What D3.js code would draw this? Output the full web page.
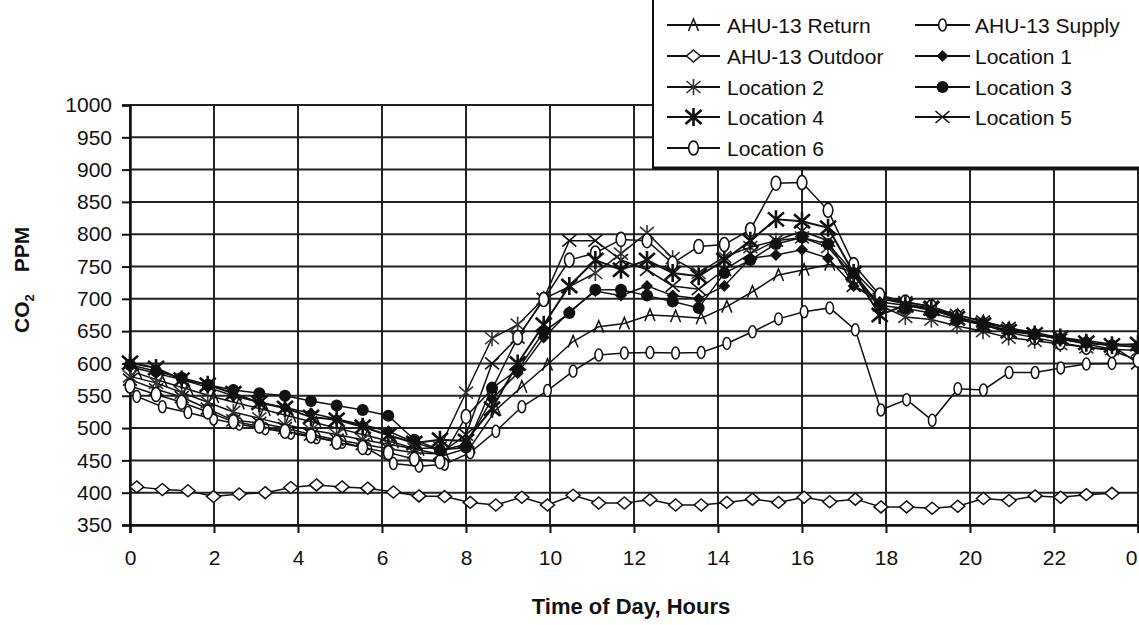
<!DOCTYPE html>
<html>
<head>
<meta charset="utf-8">
<script src="https://cdn.jsdelivr.net/npm/d3@7"></script>
<style>
  body { margin: 0; background: #fff; }
  text { font-family: "Liberation Sans", Arial, sans-serif; fill: #111; }
</style>
</head>
<body>
<div id="chart"></div>
<script>
// sample times (hours) - AHU logger and room loggers run on slightly different clocks
const hoursAHU = [0.16, 0.77, 1.38, 1.99, 2.6, 3.22, 3.83, 4.44, 5.05, 5.66, 6.27, 6.88, 7.49, 8.1, 8.71, 9.33, 9.94, 10.55, 11.16, 11.77,
                  12.38, 12.99, 13.6, 14.21, 14.82, 15.44, 16.05, 16.66, 17.27, 17.88, 18.49, 19.1, 19.71, 20.32, 20.93, 21.55, 22.16, 22.77, 23.38];
const hoursLoc = [0, 0.62, 1.23, 1.85, 2.46, 3.08, 3.69, 4.31, 4.92, 5.54, 6.15, 6.77, 7.38, 8.0, 8.62, 9.23, 9.85, 10.46, 11.08, 11.69,
                  12.31, 12.92, 13.54, 14.15, 14.77, 15.38, 16.0, 16.62, 17.23, 17.85, 18.46, 19.08, 19.69, 20.31, 20.92, 21.54, 22.15, 22.77, 23.38, 24.0];

const ahuReturn  = [585, 572, 560, 548, 538, 528, 518, 508, 498, 488, 478, 466, 458, 470, 528, 564, 598, 634, 657, 662,
                    675, 673, 670, 688, 711, 737, 745, 753, 740, 700, 692, 685, 675, 665, 655, 645, 638, 630, 622];
const ahuSupply  = [549, 533, 524, 514, 506, 499, 492, 485, 478, 468, 445, 441, 444, 462, 495, 533, 558, 588, 613, 616,
                    617, 616, 617, 631, 649, 669, 680, 686, 652, 528, 544, 512, 561, 559, 586, 586, 593, 599, 600];
const ahuOutdoor = [409, 405, 403, 394, 398, 400, 408, 412, 409, 407, 401, 395, 394, 385, 381, 393, 381, 396, 384, 384,
                    389, 381, 381, 385, 390, 385, 393, 386, 390, 378, 378, 376, 379, 391, 388, 395, 393, 397, 399];

const loc1 = [595, 585, 575, 563, 550, 540, 532, 523, 514, 505, 495, 478, 465, 475, 545, 585, 640, 680, 712, 705,
              720, 705, 700, 720, 763, 768, 776, 763, 720, 695, 690, 682, 672, 662, 655, 648, 640, 635, 630, 628];
const loc2 = [580, 570, 555, 540, 525, 515, 505, 497, 490, 482, 475, 468, 470, 555, 639, 660, 700, 719, 740, 770,
              802, 763, 740, 765, 780, 790, 795, 780, 735, 690, 672, 668, 658, 650, 640, 635, 630, 625, 622, 620];
const loc3 = [598, 588, 578, 567, 559, 554, 550, 542, 535, 528, 519, 482, 466, 470, 562, 590, 649, 678, 714, 714,
              705, 696, 686, 740, 760, 785, 795, 785, 740, 690, 685, 678, 668, 660, 652, 645, 638, 632, 628, 625];
const loc4 = [601, 593, 575, 567, 554, 539, 531, 517, 513, 502, 489, 477, 482, 480, 530, 600, 660, 720, 760, 745,
              760, 740, 735, 760, 790, 823, 820, 810, 740, 675, 690, 685, 670, 660, 650, 645, 640, 632, 628, 630];
const loc5 = [575, 560, 548, 530, 512, 508, 500, 490, 482, 475, 468, 462, 460, 490, 600, 640, 700, 790, 790, 760,
              745, 720, 715, 745, 770, 790, 805, 790, 720, 700, 695, 688, 675, 665, 655, 645, 637, 632, 628, 600];
const loc6 = [565, 552, 540, 525, 510, 503, 495, 488, 478, 470, 462, 452, 448, 518, 560, 640, 699, 760, 771, 792,
              790, 755, 781, 784, 807, 879, 880, 837, 753, 706, 695, 688, 672, 660, 648, 640, 632, 625, 620, 605];

const xTicks = [0, 2, 4, 6, 8, 10, 12, 14, 16, 18, 20, 22, 24];
const yTicks = [350, 400, 450, 500, 550, 600, 650, 700, 750, 800, 850, 900, 950, 1000];

// legend order (two columns, read left to right)
const series = [
  { name: "AHU-13 Return",  hours: hoursAHU, values: ahuReturn,  marker: "caret" },
  { name: "AHU-13 Supply",  hours: hoursAHU, values: ahuSupply,  marker: "ovalSmall" },
  { name: "AHU-13 Outdoor", hours: hoursAHU, values: ahuOutdoor, marker: "diamondOpen" },
  { name: "Location 1",     hours: hoursLoc, values: loc1,       marker: "diamondFilled" },
  { name: "Location 2",     hours: hoursLoc, values: loc2,       marker: "asterisk" },
  { name: "Location 3",     hours: hoursLoc, values: loc3,       marker: "circleFilled" },
  { name: "Location 4",     hours: hoursLoc, values: loc4,       marker: "asteriskBold" },
  { name: "Location 5",     hours: hoursLoc, values: loc5,       marker: "cross" },
  { name: "Location 6",     hours: hoursLoc, values: loc6,       marker: "ovalLarge" }
];

const width = 1139, height = 625;

const svg = d3.select("#chart")
  .append("svg")
  .attr("width", width)
  .attr("height", height);

const x = d3.scaleLinear().domain([0, 24]).range([130, 1138]);
const y = d3.scaleLinear().domain([350, 1000]).range([525, 105]);

// grid
svg.append("g").selectAll("line")
  .data(yTicks)
  .join("line")
  .attr("x1", x(0)).attr("x2", x(24))
  .attr("y1", d => y(d)).attr("y2", d => y(d))
  .attr("stroke", "#222").attr("stroke-width", 2);

svg.append("g").selectAll("line")
  .data(xTicks)
  .join("line")
  .attr("x1", d => x(d)).attr("x2", d => x(d))
  .attr("y1", y(1000)).attr("y2", y(350))
  .attr("stroke", "#222").attr("stroke-width", 2);

// axes
const yAxis = svg.append("g")
  .attr("transform", `translate(${x(0)},0)`)
  .call(d3.axisLeft(y).tickValues(yTicks).tickFormat(d3.format("d")).tickSize(8).tickPadding(10));

const xAxis = svg.append("g")
  .attr("transform", `translate(0,${y(350)})`)
  .call(d3.axisBottom(x).tickValues(xTicks).tickFormat(d => d % 24).tickSize(8).tickPadding(17));

for (const ax of [xAxis, yAxis]) {
  ax.select(".domain").attr("stroke", "#111").attr("stroke-width", 2.5);
  ax.selectAll(".tick line").attr("stroke", "#111").attr("stroke-width", 2);
  ax.selectAll("text").style("font-size", "21px").style("font-family", "'Liberation Sans', Arial, sans-serif").attr("fill", "#111");
}
// the last "0" sits right on the page edge; pull it in so it stays readable
xAxis.selectAll(".tick text").filter(d => d === 24).attr("text-anchor", "end").attr("dx", -1);

// markers
function drawMarker(g, type) {
  const ink = "#111";
  switch (type) {
    case "caret":
      g.append("path").attr("d", "M-5,6L0,-6L5,6").attr("fill", "none").attr("stroke", ink).attr("stroke-width", 1.5);
      break;
    case "ovalSmall":
      g.append("ellipse").attr("rx", 3.8).attr("ry", 6).attr("fill", "#fff").attr("stroke", ink).attr("stroke-width", 1.5);
      break;
    case "ovalLarge":
      g.append("ellipse").attr("rx", 4.8).attr("ry", 7).attr("fill", "#fff").attr("stroke", ink).attr("stroke-width", 1.6);
      break;
    case "diamondOpen":
      g.append("path").attr("d", "M0,-6L7,0L0,6L-7,0Z").attr("fill", "#fff").attr("stroke", ink).attr("stroke-width", 1.5);
      break;
    case "diamondFilled":
      g.append("path").attr("d", "M0,-6L6,0L0,6L-6,0Z").attr("fill", ink);
      break;
    case "circleFilled":
      g.append("circle").attr("r", 6).attr("fill", ink);
      break;
    case "asterisk":
      g.append("path").attr("d", "M0,-8L0,8M-7,-6L7,6M-7,6L7,-6").attr("stroke", "#333").attr("stroke-width", 1.6);
      break;
    case "asteriskBold":
      g.append("path").attr("d", "M0,-9L0,9M-8,-7L8,7M-8,7L8,-7").attr("stroke", ink).attr("stroke-width", 2.6);
      break;
    case "cross":
      g.append("path").attr("d", "M-7,-6L7,6M-7,6L7,-6").attr("stroke", ink).attr("stroke-width", 1.6);
      break;
  }
}

const line = d3.line().x(d => x(d.h)).y(d => y(d.v));

// draw order so the busy asterisk series end up on top
const drawOrder = ["AHU-13 Outdoor", "AHU-13 Supply", "AHU-13 Return", "Location 5", "Location 2",
                   "Location 6", "Location 1", "Location 3", "Location 4"];

for (const name of drawOrder) {
  const s = series.find(d => d.name === name);
  const pts = s.values.map((v, i) => ({ h: s.hours[i], v: v }));
  const g = svg.append("g");
  g.append("path")
    .datum(pts)
    .attr("d", line)
    .attr("fill", "none")
    .attr("stroke", "#111")
    .attr("stroke-width", s.marker === "asteriskBold" ? 2 : 1.5);
  g.selectAll("g")
    .data(pts)
    .join("g")
    .attr("transform", d => `translate(${x(d.h)},${y(d.v)})`)
    .each(function () { drawMarker(d3.select(this), s.marker); });
}

// legend box sits on top of the plot
const legend = svg.append("g");
legend.append("rect")
  .attr("x", 653).attr("y", -4)
  .attr("width", 500).attr("height", 172)
  .attr("fill", "#fff").attr("stroke", "#111").attr("stroke-width", 2);
legend.append("line")
  .attr("x1", 653).attr("x2", 1139).attr("y1", 168).attr("y2", 168)
  .attr("stroke", "#111").attr("stroke-width", 3);

const rowY = [25, 56, 87, 117, 148];
const colX = [{ x1: 667, x2: 720, tx: 727 }, { x1: 915, x2: 970, tx: 975 }];

series.forEach((s, i) => {
  const c = colX[i % 2], ry = rowY[Math.floor(i / 2)];
  const item = legend.append("g");
  item.append("line")
    .attr("x1", c.x1).attr("x2", c.x2).attr("y1", ry).attr("y2", ry)
    .attr("stroke", "#111").attr("stroke-width", 2);
  const m = item.append("g").attr("transform", `translate(${(c.x1 + c.x2) / 2},${ry})`);
  drawMarker(m, s.marker);
  item.append("text")
    .attr("x", c.tx).attr("y", ry + 7.5)
    .style("font-size", "21px")
    .text(s.name);
});

// axis titles
svg.append("text")
  .attr("x", 631).attr("y", 614)
  .attr("text-anchor", "middle")
  .style("font-size", "22px")
  .style("font-weight", "bold")
  .text("Time of Day, Hours");

const yTitle = svg.append("text")
  .attr("transform", "translate(29,333) rotate(-90)")
  .style("font-size", "21px")
  .style("font-weight", "bold");
yTitle.append("tspan").text("CO");
yTitle.append("tspan").attr("dy", 5).style("font-size", "13px").text("2");
yTitle.append("tspan").attr("dy", -5).attr("dx", 22).text("PPM");
</script>
</body>
</html>
